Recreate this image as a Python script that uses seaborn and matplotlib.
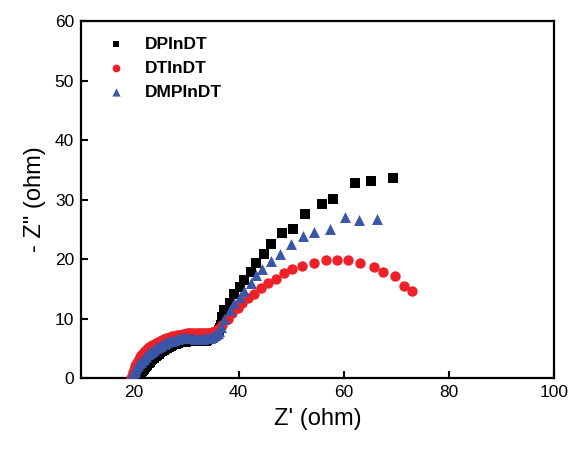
import numpy as np
import pandas as pd
import matplotlib
matplotlib.use("Agg")
import matplotlib.pyplot as plt
import seaborn as sns

# Nyquist data (Z' , -Z'')
dp_x = [20.8, 20.9, 21.0, 21.2, 21.3, 21.5, 21.6, 21.8, 22.0, 22.2, 22.4, 22.6, 22.9, 23.1,
        23.4, 23.6, 23.9, 24.2, 24.5, 24.8, 25.1, 25.4, 25.7, 26.0, 26.4, 26.7, 27.1, 27.4,
        27.8, 28.1, 28.5, 28.8, 29.2, 29.5, 29.9, 30.2, 30.6, 30.9, 31.3, 31.6, 32.0, 32.3,
        32.7, 33.0, 33.4, 33.7, 34.0, 34.3, 34.6, 34.9, 35.1, 35.4, 35.6, 35.8, 36.0, 36.2,
        36.4, 36.6, 36.8, 37.3, 38.3, 39.2, 40.2, 41.1, 42.4, 43.4, 44.9, 46.2, 48.3, 50.3,
        52.7, 55.9, 57.9, 62.2, 65.2, 69.4]
dp_y = [0.0, 0.2, 0.4, 0.6, 0.8, 1.0, 1.2, 1.4, 1.6, 1.8, 2.0, 2.2, 2.5, 2.7,
        3.0, 3.2, 3.4, 3.7, 3.9, 4.1, 4.3, 4.5, 4.7, 4.9, 5.1, 5.3, 5.4, 5.6,
        5.7, 5.8, 5.9, 6.0, 6.0, 6.1, 6.1, 6.2, 6.2, 6.2, 6.2, 6.2, 6.2, 6.2,
        6.2, 6.3, 6.3, 6.3, 6.4, 6.5, 6.6, 6.7, 6.9, 7.1, 7.3, 7.5, 7.8, 8.1,
        8.4, 9.0, 10.2, 11.4, 12.7, 14.2, 15.3, 16.4, 17.8, 19.3, 20.8, 22.6, 24.3, 25.0,
        27.6, 29.3, 30.1, 32.8, 33.1, 33.7]

dt_x = [19.6, 19.7, 19.8, 19.9, 20.0, 20.2, 20.3, 20.5, 20.6, 20.8, 21.0, 21.2, 21.4, 21.7,
        21.9, 22.2, 22.4, 22.7, 23.0, 23.3, 23.6, 24.0, 24.3, 24.7, 25.0, 25.4, 25.8, 26.2,
        26.6, 27.0, 27.4, 27.8, 28.2, 28.6, 29.0, 29.4, 29.8, 30.2, 30.6, 31.0, 31.4, 31.8,
        32.2, 32.6, 33.0, 33.4, 33.8, 34.2, 34.5, 34.9, 35.2, 35.5, 35.8, 36.1, 36.4, 36.9,
        37.9, 38.8, 39.8, 40.7, 41.7, 43.0, 44.3, 45.5, 47.2, 48.7, 50.2, 52.1, 54.4, 56.7,
        58.8, 60.9, 63.1, 65.8, 67.5, 69.8, 71.5, 73.0]
dt_y = [0.0, 0.35, 0.7, 1.0, 1.3, 1.7, 2.0, 2.3, 2.6, 2.9, 3.2, 3.5, 3.8, 4.1,
        4.3, 4.6, 4.8, 5.0, 5.2, 5.4, 5.6, 5.8, 5.9, 6.1, 6.2, 6.4, 6.5, 6.7,
        6.8, 6.9, 7.0, 7.1, 7.2, 7.3, 7.3, 7.4, 7.4, 7.5, 7.5, 7.5, 7.5, 7.6,
        7.6, 7.6, 7.6, 7.6, 7.6, 7.6, 7.6, 7.7, 7.7, 7.8, 8.0, 8.2, 8.4, 8.9,
        10.0, 10.9, 11.7, 12.6, 13.4, 14.2, 15.1, 15.9, 16.7, 17.6, 18.4, 18.9, 19.4, 19.8,
        19.9, 19.9, 19.4, 18.6, 17.9, 17.1, 15.4, 14.6]

dmp_x = [19.5, 19.6, 19.7, 19.9, 20.0, 20.2, 20.3, 20.5, 20.7, 20.9, 21.1, 21.4, 21.6, 21.9,
         22.1, 22.4, 22.7, 23.0, 23.3, 23.6, 23.9, 24.3, 24.6, 25.0, 25.3, 25.7, 26.0, 26.4,
         26.8, 27.2, 27.6, 28.0, 28.4, 28.8, 29.2, 29.6, 30.0, 30.4, 30.8, 31.2, 31.6, 32.0,
         32.4, 32.8, 33.2, 33.6, 33.9, 34.3, 34.6, 34.9, 35.2, 35.5, 35.7, 36.0, 36.2, 36.6,
         37.3, 38.3, 39.2, 40.2, 41.1, 42.3, 43.4, 44.5, 46.2, 47.8, 50.0, 52.2, 54.4, 57.4,
         60.3, 62.9, 66.4]
dmp_y = [0.0, 0.25, 0.5, 0.75, 1.0, 1.25, 1.5, 1.75, 2.0, 2.25, 2.5, 2.75, 3.0, 3.25,
         3.5, 3.75, 4.0, 4.2, 4.4, 4.6, 4.8, 5.0, 5.2, 5.4, 5.6, 5.75, 5.9, 6.05,
         6.2, 6.3, 6.4, 6.5, 6.6, 6.65, 6.7, 6.7, 6.7, 6.7, 6.7, 6.65, 6.6, 6.6,
         6.6, 6.6, 6.6, 6.65, 6.7, 6.75, 6.8, 6.9, 7.0, 7.2, 7.4, 7.6, 7.9, 8.5,
         10.0, 11.4, 12.6, 13.6, 14.7, 15.9, 17.3, 18.4, 19.6, 20.9, 22.6, 23.9, 24.5, 25.1,
         27.1, 26.6, 26.8]

names = ["DPInDT", "DTInDT", "DMPInDT"]

df = pd.concat([
    pd.DataFrame({"x": dp_x, "y": dp_y, "sample": names[0]}),
    pd.DataFrame({"x": dt_x, "y": dt_y, "sample": names[1]}),
    pd.DataFrame({"x": dmp_x, "y": dmp_y, "sample": names[2]}),
], ignore_index=True)

sns.set_style("white")
plt.rcParams['font.family'] = ['Liberation Sans', 'DejaVu Sans']
plt.rcParams['text.color'] = 'black'
plt.rcParams['axes.labelcolor'] = 'black'
plt.rcParams['xtick.color'] = 'black'
plt.rcParams['ytick.color'] = 'black'

colors = {"DPInDT": "black", "DTInDT": "#ee2028", "DMPInDT": "#3b56a6"}
marks = {"DPInDT": "s", "DTInDT": "o", "DMPInDT": "^"}
sizes = {"DPInDT": 44, "DTInDT": 56, "DMPInDT": 62}

fig = plt.figure(figsize=(5.75, 4.49), dpi=100)
ax = fig.add_axes([0.141, 0.158, 0.822, 0.795])

# one call per series so black is drawn first, blue last
for n in names:
    sub = df[df["sample"] == n]
    sns.scatterplot(data=sub, x="x", y="y", color=colors[n], marker=marks[n],
                    s=sizes[n], linewidth=0, ax=ax, label=n, zorder=3)

ax.set_xlim(10, 100)
ax.set_ylim(0, 60)
ax.set_xticks([20, 40, 60, 80, 100])
ax.set_yticks([0, 10, 20, 30, 40, 50, 60])
ax.tick_params(direction="in", length=5, width=1.5, labelsize=12.5,
               top=False, right=False, bottom=True, left=True, pad=5)
for sp in ax.spines.values():
    sp.set_linewidth(1.6)
    sp.set_color("black")

ax.set_xlabel("Z' (ohm)", fontsize=17, labelpad=6)
ax.set_ylabel('- Z" (ohm)', fontsize=17, labelpad=6)

leg = ax.legend(loc="upper left", bbox_to_anchor=(0.0, 1.0), frameon=False,
                prop={"weight": "bold", "size": 12.5}, markerscale=0.75,
                handletextpad=0.6, labelspacing=0.5, borderaxespad=0.5,
                handlelength=2.2)

fig.savefig("out.png", dpi=100)
